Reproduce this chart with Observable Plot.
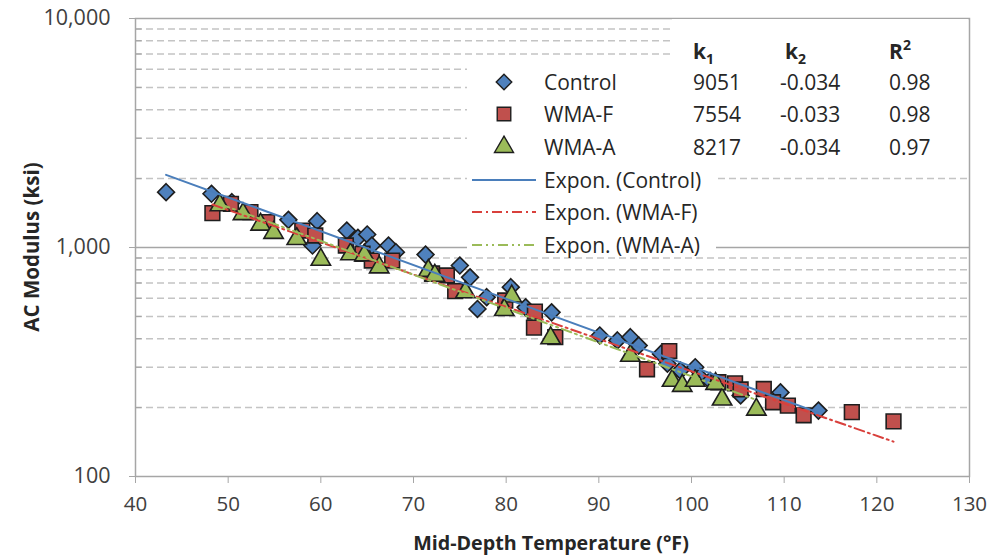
<!DOCTYPE html>
<html><head><meta charset="utf-8">
<script src="https://cdn.jsdelivr.net/npm/d3@7"></script>
<script src="https://cdn.jsdelivr.net/npm/@observablehq/plot@0.6"></script>
<style>body{margin:0;background:#fff;} #chart{width:988px;height:557px;}</style>
</head><body><div id="chart"></div>
<script>
// ---- data ----
const controlT = [43.3,48.2,50.4,56.5,59.6,59.1,62.8,64.0,65.0,65.5,67.3,68.1,71.3,75.0,76.1,77.9,76.9,80.5,82.1,84.9,90.1,92.0,93.4,94.3,96.7,97.4,98.8,100.4,100.9,102.0,105.3,109.6,113.7];
const controlE = [1744,1716,1578,1321,1303,1020,1186,1102,1140,1020,1020,954,931,834,741,607,539,671,548,521,413,393,406,373,343,311,290,300,272,262,226,233,194];
const wmafT = [48.3,50.3,52.4,54.2,58.0,59.4,62.7,64.5,65.5,67.7,72.0,73.6,74.5,79.9,83.1,83.0,85.3,97.6,95.2,102.9,104.7,105.3,107.8,108.8,110.4,112.1,117.3,121.8];
const wmafE = [1413,1552,1427,1290,1186,1128,1020,939,877,877,770,755,645,587,525,447,406,353,294,258,255,240,241,211,204,185,191,174];
const wmaaT = [49.1,51.6,53.5,54.9,57.4,60.0,63.2,64.7,66.3,71.6,72.3,75.6,80.6,79.8,84.8,93.4,97.9,99.0,100.4,102.6,103.3,107.0];
const wmaaE = [1530,1400,1260,1160,1090,885,935,925,820,792,754,638,612,534,402,337,262,249,262,254,217,196];
// exponential fits (straight on the log axis): endpoints [T, E]
const fitControl = [[43.3, 2076], [113.7, 190]];
const fitWmaf = [[48.3, 1540], [121.8, 142]];
const fitWmaa = [[49.1, 1548], [107.0, 216]];
const seriesNames = ["Control", "WMA-F", "WMA-A"];
const fitNames = ["Expon. (Control)", "Expon. (WMA-F)", "Expon. (WMA-A)"];
const k1 = ["9051", "7554", "8217"];
const k2 = ["-0.034", "-0.033", "-0.034"];
const r2 = ["0.98", "0.98", "0.97"];
const xTicks = [40,50,60,70,80,90,100,110,120,130];
const yTicks = [100,1000,10000];
const yMinor = [200,300,400,500,600,700,800,900,2000,3000,4000,5000,6000,7000,8000,9000];

const colors = {c:"#4f81bd", f:"#c0504d", a:"#9bbb59"};
const lineColors = {c:"#4a7ebb", f:"#d9403c", a:"#9bbb59"};
const F = "'Open Sans', sans-serif";
const txt = "#333";
const R = {c: 7.6, f: 8.3, a: 7.2};

const toRows = (T, E) => T.map((t, i) => ({T: t, E: E[i]}));
const fitRows = f => f.map(([T, E]) => ({T, E}));

const plot = Plot.plot({
  width: 988, height: 557,
  marginLeft: 135, marginRight: 19, marginTop: 18, marginBottom: 81,
  style: {fontFamily: F, background: "#fff", color: txt},
  x: {domain: [40, 130], label: null},
  y: {type: "log", domain: [100, 10000], label: null},
  marks: [
    Plot.ruleY(yMinor, {stroke: "#c4c4c4", strokeWidth: 1.5, strokeDasharray: "7,4"}),
    Plot.ruleY([1000], {stroke: "#a6a6a6", strokeWidth: 1.5}),
    Plot.frame({stroke: "#a6a6a6", strokeWidth: 1.5}),
    Plot.ruleY(yMinor, {x1: 40, x2: 40.7, stroke: "#a6a6a6", strokeWidth: 1.2}),
    Plot.axisY({ticks: yTicks, tickFormat: d3.format(","), tickSize: 6, tickPadding: 19, fontSize: 21.5, stroke: "#a6a6a6", fill: "#404040"}),
    Plot.axisX({ticks: xTicks, tickFormat: d => String(d), tickSize: 7, tickPadding: 13, fontSize: 20.5, stroke: "#a6a6a6", fill: "#404040"}),
    Plot.dot(toRows(controlT, controlE), {x: "T", y: "E", symbol: "diamond2", r: R.c, fill: colors.c, stroke: "#1e1e1e", strokeWidth: 1.6}),
    Plot.dot(toRows(wmafT, wmafE), {x: "T", y: "E", symbol: "square", r: R.f, fill: colors.f, stroke: "#1e1e1e", strokeWidth: 1.6}),
    Plot.dot(toRows(wmaaT, wmaaE), {x: "T", y: "E", symbol: "triangle", r: R.a, fill: colors.a, stroke: "#1e1e1e", strokeWidth: 1.6}),
    Plot.line(fitRows(fitControl), {x: "T", y: "E", stroke: lineColors.c, strokeWidth: 2}),
    Plot.line(fitRows(fitWmaf), {x: "T", y: "E", stroke: lineColors.f, strokeWidth: 2, strokeDasharray: "10,4,2,4"}),
    Plot.line(fitRows(fitWmaa), {x: "T", y: "E", stroke: lineColors.a, strokeWidth: 2, strokeDasharray: "10,4,2,4,2,4"})
  ]
});
document.getElementById("chart").appendChild(plot);

// ---- titles & legend ----
const svg = d3.select(plot);
svg.append("text").attr("transform", "translate(39,247) rotate(-90)")
  .attr("text-anchor", "middle").attr("font-family", F).attr("font-weight", "bold")
  .attr("font-size", 20.5).attr("fill", "#262626").text("AC Modulus (ksi)");
svg.append("text").attr("x", 551).attr("y", 550)
  .attr("text-anchor", "middle").attr("font-family", F).attr("font-weight", "bold")
  .attr("font-size", 19.7).attr("fill", "#262626").text("Mid-Depth Temperature (°F)");

const lg = svg.append("g").attr("font-family", F).attr("font-size", 21).attr("fill", "#262626")
  .attr("text-anchor", "start");
lg.append("rect").attr("x", 467).attr("y", 58).attr("width", 249).attr("height", 195).attr("fill", "#fff");
lg.append("rect").attr("x", 672).attr("y", 19).attr("width", 296).attr("height", 143).attr("fill", "#fff");

const symbols = [d3.symbolDiamond2, d3.symbolSquare, d3.symbolTriangle];
const sizes = [R.c * 0.92, R.f * 0.92, R.a * 0.98].map(r => r * r * Math.PI);
const fills = [colors.c, colors.f, colors.a];
const rowY = [82, 114, 147];
seriesNames.forEach((name, i) => {
  lg.append("path").attr("d", d3.symbol(symbols[i], sizes[i])())
    .attr("transform", `translate(504,${rowY[i]})`)
    .attr("fill", fills[i]).attr("stroke", "#1e1e1e").attr("stroke-width", 1.4);
  lg.append("text").attr("x", 544).attr("y", rowY[i] + 8).text(name);
  lg.append("text").attr("x", 693).attr("y", rowY[i] + 8).text(k1[i]);
  lg.append("text").attr("x", 780).attr("y", rowY[i] + 8).text(k2[i]);
  lg.append("text").attr("x", 889).attr("y", rowY[i] + 8).text(r2[i]);
});
const h1 = lg.append("text").attr("x", 693).attr("y", 59).attr("font-weight", "bold");
h1.append("tspan").text("k");
h1.append("tspan").attr("font-size", 14).attr("dy", 5).text("1");
const h2 = lg.append("text").attr("x", 785).attr("y", 59).attr("font-weight", "bold");
h2.append("tspan").text("k");
h2.append("tspan").attr("font-size", 14).attr("dy", 5).text("2");
const h3 = lg.append("text").attr("x", 889).attr("y", 59).attr("font-weight", "bold");
h3.append("tspan").text("R");
h3.append("tspan").attr("font-size", 14).attr("dy", -9).text("2");

const lineY = [180, 212, 245];
const dashes = [null, "10,4,2,4", "10,4,2,4,2,4"];
const lcs = [lineColors.c, lineColors.f, lineColors.a];
fitNames.forEach((name, i) => {
  const l = lg.append("line").attr("x1", 472).attr("x2", 536).attr("y1", lineY[i]).attr("y2", lineY[i])
    .attr("stroke", lcs[i]).attr("stroke-width", 1.8);
  if (dashes[i]) l.attr("stroke-dasharray", dashes[i]);
  lg.append("text").attr("x", 544).attr("y", lineY[i] + 8).text(name);
});
</script>
</body></html>
